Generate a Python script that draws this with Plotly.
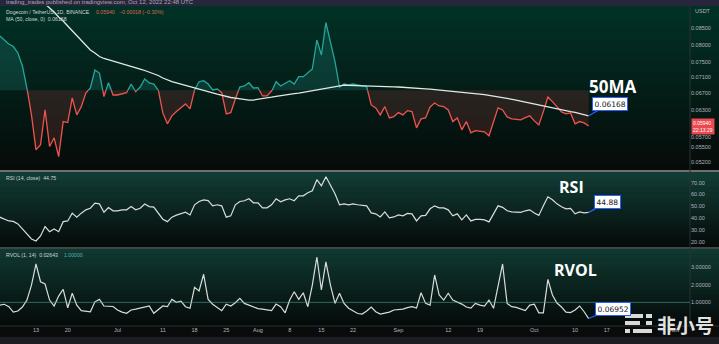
import math
import pandas as pd
import plotly.graph_objects as go

# ---------------- data ----------------
start_date = "2022-06-05"
price = [0.08255, 0.08135, 0.08017, 0.07944, 0.07758, 0.07398, 0.06827, 0.06188, 0.05447, 0.05548,
         0.06302, 0.05513, 0.05691, 0.05312, 0.06039, 0.06017, 0.06583, 0.06188, 0.06378, 0.06704,
         0.06827, 0.07291, 0.07211, 0.06614, 0.06960, 0.06655, 0.06655, 0.06680, 0.06711, 0.06927,
         0.06736, 0.06852, 0.07055, 0.06953, 0.06927, 0.06778, 0.06233, 0.05989, 0.06166, 0.06263,
         0.06348, 0.06441, 0.06325, 0.06778, 0.06986, 0.07011, 0.06927, 0.06778, 0.06802, 0.06711,
         0.06211, 0.06240, 0.06559, 0.06852, 0.06877, 0.06960, 0.06827, 0.06835, 0.06631, 0.06631,
         0.06736, 0.06986, 0.06877, 0.06953, 0.07011, 0.06927, 0.07115, 0.07115, 0.07219, 0.07317,
         0.08135, 0.07701, 0.08666, 0.08047, 0.07515, 0.06852, 0.06927, 0.06902, 0.06927, 0.06902,
         0.06877, 0.06860, 0.06417, 0.06348, 0.06188, 0.06378, 0.06121, 0.06150, 0.06240, 0.06188,
         0.06286, 0.06263, 0.05902, 0.06099, 0.06121, 0.06371, 0.06464, 0.06394, 0.06378, 0.06302,
         0.06039, 0.06121, 0.05859, 0.06039, 0.05796, 0.05844, 0.05838, 0.05817, 0.05733, 0.06010,
         0.06348, 0.06302, 0.06143, 0.06099, 0.06088, 0.06076, 0.06127, 0.06166, 0.06054, 0.05967,
         0.06263, 0.06607, 0.06495, 0.06371, 0.06256, 0.06211, 0.06233, 0.05989, 0.06039, 0.06010,
         0.05940]
ma50 = [0.11099, 0.10897, 0.10700, 0.10506, 0.10316, 0.10130, 0.09946, 0.09766, 0.09589, 0.09415,
        0.09279, 0.09144, 0.09012, 0.08848, 0.08720, 0.08562, 0.08407, 0.08255, 0.08106, 0.07988,
        0.07844, 0.07758, 0.07659, 0.07604, 0.07570, 0.07535, 0.07499, 0.07458, 0.07420, 0.07385,
        0.07350, 0.07317, 0.07278, 0.07238, 0.07203, 0.07146, 0.07081, 0.07030, 0.06986, 0.06953,
        0.06922, 0.06897, 0.06869, 0.06844, 0.06802, 0.06765, 0.06736, 0.06704, 0.06674, 0.06642,
        0.06618, 0.06594, 0.06577, 0.06559, 0.06546, 0.06533, 0.06533, 0.06546, 0.06563, 0.06583,
        0.06601, 0.06623, 0.06642, 0.06659, 0.06672, 0.06686, 0.06699, 0.06718, 0.06738, 0.06758,
        0.06778, 0.06797, 0.06817, 0.06837, 0.06862, 0.06890, 0.06897, 0.06894, 0.06892, 0.06890,
        0.06887, 0.06882, 0.06877, 0.06874, 0.06869, 0.06864, 0.06862, 0.06857, 0.06852, 0.06847,
        0.06844, 0.06837, 0.06827, 0.06817, 0.06807, 0.06797, 0.06787, 0.06778, 0.06770, 0.06760,
        0.06750, 0.06741, 0.06728, 0.06718, 0.06709, 0.06696, 0.06680, 0.06665, 0.06648, 0.06631,
        0.06614, 0.06597, 0.06583, 0.06559, 0.06533, 0.06509, 0.06485, 0.06464, 0.06445, 0.06424,
        0.06400, 0.06371, 0.06348, 0.06325, 0.06302, 0.06279, 0.06263, 0.06245, 0.06222, 0.06200,
        0.06168]
rsi = [40.8, 39.3, 37.6, 37.2, 35.1, 30.8, 26.6, 22.3, 20.6, 24.9,
       32.8, 28.5, 30.8, 28.5, 37.0, 37.6, 44.2, 40.8, 44.2, 47.0,
       48.4, 52.7, 52.1, 45.0, 49.0, 46.2, 46.2, 47.0, 47.0, 49.8,
       47.0, 48.4, 51.9, 49.8, 49.3, 44.2, 39.1, 37.0, 40.8, 42.5,
       43.6, 45.0, 42.7, 51.3, 54.1, 55.5, 54.9, 50.4, 51.3, 50.4,
       40.8, 41.9, 51.3, 54.1, 54.7, 56.4, 53.0, 53.0, 48.7, 48.7,
       51.3, 56.4, 53.8, 55.5, 56.4, 54.7, 58.9, 58.9, 61.5, 63.2,
       72.6, 67.4, 75.1, 67.4, 60.6, 51.3, 52.1, 51.3, 52.1, 51.3,
       50.8, 50.4, 44.4, 43.6, 41.0, 45.3, 40.2, 41.0, 42.7, 41.9,
       44.0, 43.6, 37.6, 41.9, 42.3, 47.9, 50.4, 48.7, 48.7, 47.0,
       41.9, 43.6, 38.5, 42.7, 37.6, 38.9, 38.9, 38.5, 36.8, 43.6,
       50.4, 49.1, 46.2, 45.3, 45.3, 44.9, 46.2, 47.0, 44.4, 42.3,
       50.4, 58.1, 55.5, 52.1, 49.6, 47.9, 48.3, 43.6, 45.3, 44.4,
       44.88]
rvol = [0.84, 0.89, 0.75, 0.44, 0.50, 0.73, 1.13, 1.99, 3.20, 2.18,
        2.05, 1.13, 0.79, 1.36, 1.75, 0.69, 1.52, 0.84, 0.52, 0.50,
        0.46, 1.03, 1.17, 0.79, 0.79, 0.76, 0.56, 0.44, 0.37, 0.56,
        0.61, 0.67, 0.76, 0.79, 0.37, 0.60, 0.79, 0.75, 1.17, 1.00,
        1.07, 0.75, 0.66, 1.86, 1.65, 2.61, 1.17, 0.89, 0.70, 0.52,
        0.89, 0.79, 0.98, 1.23, 0.94, 0.84, 0.73, 0.64, 0.61, 0.56,
        0.52, 0.90, 0.75, 0.40, 1.13, 1.61, 1.17, 1.55, 0.75, 1.99,
        3.60, 1.71, 3.32, 1.99, 0.94, 1.52, 0.94, 0.66, 0.50, 0.36,
        0.33, 0.50, 0.73, 0.46, 0.33, 0.39, 0.44, 0.56, 0.59, 0.61,
        0.70, 0.75, 0.67, 1.55, 0.94, 0.84, 2.57, 1.42, 1.13, 1.52,
        1.13, 1.02, 0.90, 0.73, 0.67, 0.94, 0.84, 0.79, 1.13, 0.66,
        1.88, 3.20, 0.94, 0.75, 0.71, 0.61, 0.53, 0.84, 0.89, 0.40,
        0.40, 2.32, 1.42, 0.96, 0.73, 0.44, 0.41, 0.56, 0.79, 0.46,
        0.06952]

x_tick_dates = ["2022-06-13", "2022-06-20", "2022-07-01", "2022-07-11", "2022-07-18", "2022-07-25",
                "2022-08-01", "2022-08-08", "2022-08-15", "2022-08-22", "2022-09-01", "2022-09-12",
                "2022-09-19", "2022-10-01", "2022-10-10", "2022-10-17", "2022-11-01"]
x_tick_text = ["13", "20", "Jul", "11", "18", "25", "Aug", "8", "15", "22", "Sep", "12",
               "19", "Oct", "10", "17", "Nov"]
price_ticks = [0.085, 0.080, 0.075, 0.071, 0.067, 0.063, 0.057, 0.055, 0.052]
rsi_ticks = [70, 60, 50, 40, 30, 20]
rvol_ticks = [3, 2, 1]
baseline_level = 0.0677
last_price = 0.05940
rsi_legend_value = 44.75
rvol_legend_value = 0.02643

# ---------------- layout helpers ----------------
W, H = 719, 344
def px(x):
    return x / W
def py(y):
    return 1 - y / H

XR = px(690)
dates = pd.date_range(start_date, periods=len(price), freq="D")

# split price into above/below baseline parts (crossings computed in log space)
lb = math.log10(baseline_level)
xs, ys = [], []
for i in range(len(price)):
    if i > 0:
        a = math.log10(price[i - 1]) - lb
        b = math.log10(price[i]) - lb
        if a * b < 0:
            t = a / (a - b)
            xs.append(dates[i - 1] + (dates[i] - dates[i - 1]) * t)
            ys.append(baseline_level)
    xs.append(dates[i])
    ys.append(price[i])
up_line = [v if v >= baseline_level else None for v in ys]
dn_line = [v if v <= baseline_level else None for v in ys]
up_fill = [max(v, baseline_level) for v in ys]
dn_fill = [min(v, baseline_level) for v in ys]
base_arr = [baseline_level] * len(ys)

GREEN = "#26a69a"
RED = "#ef5350"
fig = go.Figure()
fig.add_trace(go.Scatter(x=xs, y=base_arr, mode="lines", line=dict(width=0), xaxis="x", yaxis="y", hoverinfo="skip"))
fig.add_trace(go.Scatter(x=xs, y=up_fill, mode="lines", line=dict(width=0), fill="tonexty",
                         fillcolor="rgba(38,166,154,0.20)", xaxis="x", yaxis="y", hoverinfo="skip"))
fig.add_trace(go.Scatter(x=xs, y=base_arr, mode="lines", line=dict(width=0), xaxis="x", yaxis="y", hoverinfo="skip"))
fig.add_trace(go.Scatter(x=xs, y=dn_fill, mode="lines", line=dict(width=0), fill="tonexty",
                         fillcolor="rgba(239,83,80,0.15)", xaxis="x", yaxis="y", hoverinfo="skip"))
fig.add_trace(go.Scatter(x=xs, y=up_line, mode="lines", line=dict(color=GREEN, width=1.3),
                         connectgaps=False, xaxis="x", yaxis="y"))
fig.add_trace(go.Scatter(x=xs, y=dn_line, mode="lines", line=dict(color=RED, width=1.3),
                         connectgaps=False, xaxis="x", yaxis="y"))
fig.add_trace(go.Scatter(x=dates, y=ma50, mode="lines", line=dict(color="#e2e8e5", width=1.3),
                         xaxis="x", yaxis="y"))
fig.add_trace(go.Scatter(x=dates, y=rsi, mode="lines", line=dict(color="#d9dcdb", width=1.2),
                         xaxis="x2", yaxis="y2"))
fig.add_trace(go.Scatter(x=dates, y=rvol, mode="lines", line=dict(color="#d9dcdb", width=1.2),
                         xaxis="x3", yaxis="y3"))

# ---------------- background shapes ----------------
shapes = []
def band(y0, y1, c0, c1, n=30):
    for k in range(n):
        t = (k + 0.5) / n
        c = tuple(int(round(c0[j] + (c1[j] - c0[j]) * t)) for j in range(3))
        ya = y0 + (y1 - y0) * k / n
        yb = y0 + (y1 - y0) * (k + 1) / n + 0.6
        shapes.append(dict(type="rect", xref="paper", yref="paper", x0=0, x1=1,
                           y0=py(yb), y1=py(ya), line=dict(width=0),
                           fillcolor="rgb(%d,%d,%d)" % c, layer="below"))

def rect(x0, y0, x1, y1, color):
    shapes.append(dict(type="rect", xref="paper", yref="paper", x0=px(x0), x1=px(x1),
                       y0=py(y1), y1=py(y0), line=dict(width=0), fillcolor=color, layer="below"))

rect(0, 0, 719, 6, "#28263a")
band(6, 171, (1, 50, 38), (6, 10, 9))
band(172, 248, (18, 62, 54), (5, 10, 9))
band(249, 326, (16, 58, 50), (5, 10, 9))
rect(0, 326, 719, 337, "#0a0c0c")
rect(0, 337, 719, 344, "#1c1c23")

shapes += [
    dict(type="line", xref="paper", yref="paper", x0=0, x1=1, y0=py(171), y1=py(171),
         line=dict(color="#d6d9d8", width=1.2)),
    dict(type="line", xref="paper", yref="paper", x0=0, x1=1, y0=py(248), y1=py(248),
         line=dict(color="#7d8584", width=1)),
    dict(type="line", xref="paper", yref="paper", x0=0, x1=1, y0=py(326), y1=py(326),
         line=dict(color="#2a2e2e", width=1)),
    dict(type="line", xref="paper", yref="paper", x0=XR, x1=XR, y0=py(326), y1=py(6),
         line=dict(color="#2b3231", width=1)),
    dict(type="line", xref="paper", yref="y3", x0=0, x1=XR, y0=1, y1=1,
         line=dict(color="rgba(90,170,165,0.55)", width=1)),
]

# watermark icon (decorative)
def pill(x0, y0, x1, y1):
    shapes.append(dict(type="rect", xref="paper", yref="paper", x0=px(x0), x1=px(x1),
                       y0=py(y1), y1=py(y0), line=dict(width=0),
                       fillcolor="rgba(235,235,235,0.92)", layer="above"))
pill(625, 314, 643, 318); pill(646, 314, 652, 318)
pill(625, 321, 640, 325); pill(646, 321, 652, 325)
pill(625, 329, 630, 333); pill(633, 329, 652, 333)

# ---------------- annotations ----------------
AX = "#b2b5be"
ann = []
def txt(x, y, s, size=6, color=AX, xanchor="left", bold=False, family="Liberation Sans"):
    ann.append(dict(xref="paper", yref="paper", x=px(x), y=py(y), text=("<b>%s</b>" % s) if bold else s,
                    showarrow=False, xanchor=xanchor, yanchor="middle",
                    font=dict(size=size, color=color, family=family)))

txt(4, 2, "trading_trades published on tradingview.com, Oct 12, 2022 22:48 UTC", size=6, color="#a9a7b8")
txt(4, 12, "Dogecoin / TetherUS, 1D, BINANCE", size=5.2, color="#d1d4dc")
txt(94, 12, "0.05940   −0.00018 (−0.30%)", size=5.2, color="#d96a4a")
txt(4, 19.5, "MA (50, close, 0)  0.06168", size=5.2, color="#d1d4dc")
txt(4, 177.5, "RSI (14, close)  %.2f" % rsi_legend_value, size=5.2, color="#d1d4dc")
txt(4, 254.5, "RVOL (1, 14)  %.5f" % rvol_legend_value, size=5.2, color="#d1d4dc")
txt(62, 254.5, "1.00000", size=5.2, color="#4fb3ad")
txt(693, 11, "USDT", size=5.5)

txt(612, 86, "50MA", size=17, color="white", xanchor="center", bold=True, family="Open Sans")
txt(571, 187, "RSI", size=16, color="white", xanchor="center", bold=True, family="Open Sans")
txt(575, 270, "RVOL", size=16, color="white", xanchor="center", bold=True, family="Open Sans")
txt(685, 324, "非小号", size=19, color="rgba(240,240,240,0.95)", xanchor="center", bold=True,
    family="Noto Sans CJK SC")

BLUE = "#2962ff"
def valbox(xref, yref, x, y, s, ax, ay):
    ann.append(dict(xref=xref, yref=yref, x=x, y=y, text=s, showarrow=True, arrowhead=0,
                    arrowcolor=BLUE, arrowwidth=1.2, ax=ax, ay=ay, bgcolor="white",
                    bordercolor=BLUE, borderwidth=1, borderpad=1.5,
                    font=dict(size=7.5, color="#131722", family="DejaVu Sans")))

valbox("x", "y", dates[-1], math.log10(ma50[-1]), "%.5f" % ma50[-1], 21, -12)
valbox("x2", "y2", dates[-1], rsi[-1], "%.2f" % rsi[-1], 19, -10)
valbox("x3", "y3", dates[-1], rvol[-1], "%.5f" % rvol[-1], 24, -10)

# last price badge on the axis
ann.append(dict(xref="paper", yref="y", x=XR + 0.001, y=math.log10(last_price), xanchor="left",
                yanchor="middle", text="%.5f<br>22:13:29" % last_price, showarrow=False,
                bgcolor="#e84a4f", borderpad=1, align="left",
                font=dict(size=5, color="white", family="Liberation Sans")))

# ---------------- axes ----------------
xrange = ["2022-06-05 01:16", "2022-11-04 08:53"]
common_x = dict(range=xrange, domain=[0, XR], showgrid=False, zeroline=False, showline=False,
                ticks="", type="date")
tickfont = dict(size=5.5, color=AX, family="Liberation Sans")

layout = dict(
    width=W, height=H, margin=dict(l=0, r=0, t=0, b=0),
    paper_bgcolor="#000000", plot_bgcolor="rgba(0,0,0,0)",
    showlegend=False, hovermode=False,
    xaxis=dict(common_x, anchor="y", showticklabels=False),
    xaxis2=dict(common_x, anchor="y2", showticklabels=False, matches="x"),
    xaxis3=dict(common_x, anchor="y3", showticklabels=True, matches="x",
                tickvals=x_tick_dates, ticktext=x_tick_text, tickfont=tickfont, ticklen=3),
    yaxis=dict(type="log", domain=[py(170), py(6)],
               range=[math.log10(0.050597), math.log10(0.092114)],
               side="right", anchor="x", tickvals=price_ticks,
               ticktext=["%.5f" % v for v in price_ticks], tickfont=tickfont,
               showgrid=False, zeroline=False, ticks=""),
    yaxis2=dict(domain=[py(247), py(172)], range=[15.5, 79.1], side="right", anchor="x2",
                tickvals=rsi_ticks, ticktext=["%.2f" % v for v in rsi_ticks], tickfont=tickfont,
                showgrid=False, zeroline=False, ticks=""),
    yaxis3=dict(domain=[py(325), py(249)], range=[-0.30, 4.06], side="right", anchor="x3",
                tickvals=rvol_ticks, ticktext=["%.5f" % v for v in rvol_ticks], tickfont=tickfont,
                showgrid=False, zeroline=False, ticks=""),
    shapes=shapes, annotations=ann,
)
fig.update_layout(layout)
fig.write_html("out.html")
